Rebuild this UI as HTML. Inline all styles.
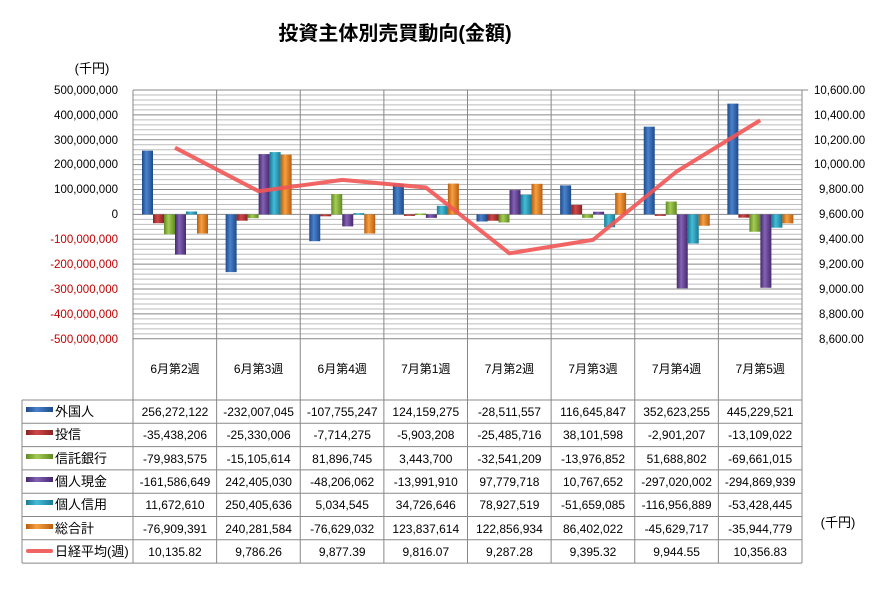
<!DOCTYPE html>
<html><head><meta charset="utf-8"><style>
body{margin:0;background:#fff;width:895px;height:584px;overflow:hidden;font-family:"Liberation Sans","Noto Sans CJK JP",sans-serif}
svg text{font-family:"Liberation Sans","Noto Sans CJK JP",sans-serif}
</style></head><body>
<svg id="s" width="895" height="584" xmlns="http://www.w3.org/2000/svg">
<defs>
<linearGradient id="g0" x1="0" x2="1"><stop offset="0" stop-color="#1e4a8a"/><stop offset=".4" stop-color="#4a82cc"/><stop offset="1" stop-color="#1e4a8a"/></linearGradient>
<linearGradient id="g1" x1="0" x2="1"><stop offset="0" stop-color="#8a2222"/><stop offset=".4" stop-color="#d04848"/><stop offset="1" stop-color="#8a2222"/></linearGradient>
<linearGradient id="g2" x1="0" x2="1"><stop offset="0" stop-color="#5f8a22"/><stop offset=".4" stop-color="#a6cc55"/><stop offset="1" stop-color="#5f8a22"/></linearGradient>
<linearGradient id="g3" x1="0" x2="1"><stop offset="0" stop-color="#45296e"/><stop offset=".4" stop-color="#8462b5"/><stop offset="1" stop-color="#45296e"/></linearGradient>
<linearGradient id="g4" x1="0" x2="1"><stop offset="0" stop-color="#1a7a94"/><stop offset=".4" stop-color="#45bcd8"/><stop offset="1" stop-color="#1a7a94"/></linearGradient>
<linearGradient id="g5" x1="0" x2="1"><stop offset="0" stop-color="#b85d10"/><stop offset=".4" stop-color="#f7a040"/><stop offset="1" stop-color="#b85d10"/></linearGradient>
</defs>
<text x="395" y="40" text-anchor="middle" font-size="20" font-weight="bold">投資主体別売買動向(金額)</text>
<text x="92" y="73" text-anchor="middle" font-size="13">(千円)</text>
<text x="838" y="527" text-anchor="middle" font-size="13">(千円)</text>
<g id="grid"></g>
<g id="bars"></g>
<polyline points="175,147.7 258.6,191.2 342.2,179.9 425.8,187.5 509.4,253.3 593,239.9 676.6,171.5 760.2,120.3" fill="none" stroke="#f25555" stroke-width="4" stroke-opacity="0.9"/>
<g font-size="11.5" text-anchor="end">
<text x="118" y="94">500,000,000</text><text x="118" y="119">400,000,000</text><text x="118" y="144">300,000,000</text><text x="118" y="168">200,000,000</text><text x="118" y="193">100,000,000</text><text x="118" y="218">0</text>
<g fill="#c00000"><text x="118" y="243">-100,000,000</text><text x="118" y="268">-200,000,000</text><text x="118" y="293">-300,000,000</text><text x="118" y="318">-400,000,000</text><text x="118" y="343">-500,000,000</text></g>
</g>
<g font-size="11.5" text-anchor="start">
<text x="814" y="94">10,600.00</text><text x="814" y="119">10,400.00</text><text x="814" y="144">10,200.00</text><text x="814" y="168">10,000.00</text><text x="819" y="193">9,800.00</text><text x="819" y="218">9,600.00</text><text x="819" y="243">9,400.00</text><text x="819" y="268">9,200.00</text><text x="819" y="293">9,000.00</text><text x="819" y="318">8,800.00</text><text x="819" y="343">8,600.00</text>
</g>
<g font-size="12" text-anchor="middle">
<text x="175" y="373">6月第2週</text><text x="258.6" y="373">6月第3週</text><text x="342.2" y="373">6月第4週</text><text x="425.8" y="373">7月第1週</text><text x="509.4" y="373">7月第2週</text><text x="593" y="373">7月第3週</text><text x="676.6" y="373">7月第4週</text><text x="760.2" y="373">7月第5週</text>
</g>
<g id="tbl" font-size="12" text-anchor="middle">
<text x="175" y="416">256,272,122</text><text x="258.6" y="416">-232,007,045</text><text x="342.2" y="416">-107,755,247</text><text x="425.8" y="416">124,159,275</text><text x="509.4" y="416">-28,511,557</text><text x="593" y="416">116,645,847</text><text x="676.6" y="416">352,623,255</text><text x="760.2" y="416">445,229,521</text>
<text x="175" y="439">-35,438,206</text><text x="258.6" y="439">-25,330,006</text><text x="342.2" y="439">-7,714,275</text><text x="425.8" y="439">-5,903,208</text><text x="509.4" y="439">-25,485,716</text><text x="593" y="439">38,101,598</text><text x="676.6" y="439">-2,901,207</text><text x="760.2" y="439">-13,109,022</text>
<text x="175" y="463">-79,983,575</text><text x="258.6" y="463">-15,105,614</text><text x="342.2" y="463">81,896,745</text><text x="425.8" y="463">3,443,700</text><text x="509.4" y="463">-32,541,209</text><text x="593" y="463">-13,976,852</text><text x="676.6" y="463">51,688,802</text><text x="760.2" y="463">-69,661,015</text>
<text x="175" y="486">-161,586,649</text><text x="258.6" y="486">242,405,030</text><text x="342.2" y="486">-48,206,062</text><text x="425.8" y="486">-13,991,910</text><text x="509.4" y="486">97,779,718</text><text x="593" y="486">10,767,652</text><text x="676.6" y="486">-297,020,002</text><text x="760.2" y="486">-294,869,939</text>
<text x="175" y="509">11,672,610</text><text x="258.6" y="509">250,405,636</text><text x="342.2" y="509">5,034,545</text><text x="425.8" y="509">34,726,646</text><text x="509.4" y="509">78,927,519</text><text x="593" y="509">-51,659,085</text><text x="676.6" y="509">-116,956,889</text><text x="760.2" y="509">-53,428,445</text>
<text x="175" y="533">-76,909,391</text><text x="258.6" y="533">240,281,584</text><text x="342.2" y="533">-76,629,032</text><text x="425.8" y="533">123,837,614</text><text x="509.4" y="533">122,856,934</text><text x="593" y="533">86,402,022</text><text x="676.6" y="533">-45,629,717</text><text x="760.2" y="533">-35,944,779</text>
<text x="175" y="556">10,135.82</text><text x="258.6" y="556">9,786.26</text><text x="342.2" y="556">9,877.39</text><text x="425.8" y="556">9,816.07</text><text x="509.4" y="556">9,287.28</text><text x="593" y="556">9,395.32</text><text x="676.6" y="556">9,944.55</text><text x="760.2" y="556">10,356.83</text>
</g>
<g font-size="13">
<rect x="26" y="407" width="27" height="5" fill="url(#g0)"/><text x="55" y="416">外国人</text>
<rect x="26" y="430" width="27" height="5" fill="url(#g1)"/><text x="55" y="439">投信</text>
<rect x="26" y="454" width="27" height="5" fill="url(#g2)"/><text x="55" y="463">信託銀行</text>
<rect x="26" y="477" width="27" height="5" fill="url(#g3)"/><text x="55" y="486">個人現金</text>
<rect x="26" y="500" width="27" height="5" fill="url(#g4)"/><text x="55" y="509">個人信用</text>
<rect x="26" y="524" width="27" height="5" fill="url(#g5)"/><text x="55" y="533">総合計</text>
<rect x="26" y="549" width="27" height="4" rx="2" fill="#f06464"/><text x="55" y="556">日経平均(週)</text>
</g>
</svg>
<script>
var NS="http://www.w3.org/2000/svg";
function el(p,t,a){var e=document.createElementNS(NS,t);for(var k in a)e.setAttribute(k,a[k]);document.getElementById(p).appendChild(e);}
var L=133,R=802,W=(R-L)/8,T=90,S=24.88;
for(var i=0;i<=50;i++){var y=T+i*S/5;el("grid","line",{x1:L,x2:R,y1:y,y2:y,stroke:i%5==0?"#888":"#bbb","stroke-width":1});}
for(var i=0;i<=8;i++){var x=L+W*i;el("grid","line",{x1:x,x2:x,y1:T,y2:563,stroke:"#888"});}
el("grid","line",{x1:802,x2:808,y1:T,y2:T,stroke:"#888"});
el("grid","line",{x1:22,x2:802,y1:400,y2:400,stroke:"#888"});
for(var r=0;r<8;r++){var y=400+r*23.3;el("grid","line",{x1:22,x2:802,y1:y,y2:y,stroke:"#888"});}
el("grid","line",{x1:22,x2:22,y1:400,y2:563,stroke:"#888"});
var D=[[256272122,-35438206,-79983575,-161586649,11672610,-76909391],[-232007045,-25330006,-15105614,242405030,250405636,240281584],[-107755247,-7714275,81896745,-48206062,5034545,-76629032],[124159275,-5903208,3443700,-13991910,34726646,123837614],[-28511557,-25485716,-32541209,97779718,78927519,122856934],[116645847,38101598,-13976852,10767652,-51659085,86402022],[352623255,-2901207,51688802,-297020002,-116956889,-45629717],[445229521,-13109022,-69661015,-294869939,-53428445,-35944779]];
var Z=T+5*S;
for(var g=0;g<8;g++)for(var k=0;k<6;k++){var v=D[g][k],h=Math.abs(v)/1e8*S,x=L+W*g+9+k*11;var y=v>=0?Z-h:Z;el("bars","rect",{x:x,y:y,width:11,height:Math.max(h,1.5),fill:"url(#g"+k+")"});}
</script>
</body></html>
